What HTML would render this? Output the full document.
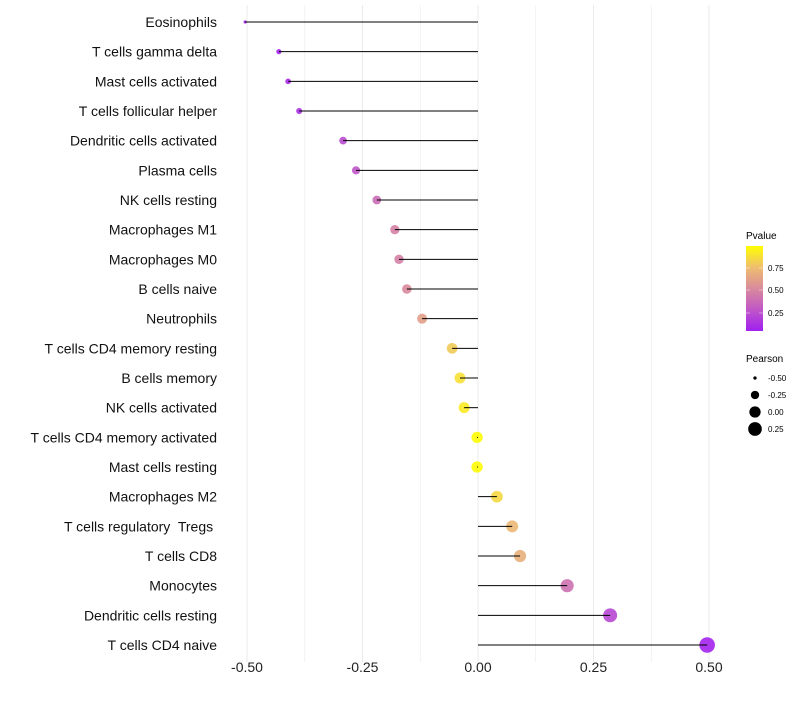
<!DOCTYPE html>
<html><head><meta charset="utf-8"><style>
body{margin:0;background:#fff;font-family:"Liberation Sans",sans-serif}
text{white-space:pre}
</style></head><body>
<svg id="chart" width="800" height="700" xmlns="http://www.w3.org/2000/svg" font-family="Liberation Sans, sans-serif">
<defs><linearGradient id="pg" x1="0" y1="1" x2="0" y2="0">
<stop offset="0" stop-color="#A020F0"/><stop offset="0.25" stop-color="#C056C8"/><stop offset="0.5" stop-color="#D98A9C"/><stop offset="0.75" stop-color="#EEBE6E"/><stop offset="1" stop-color="#FFFF00"/>
</linearGradient></defs>
<g id="grid"></g><g id="points"></g><g id="marks"></g><g id="ylabels"></g><g id="xlabels"></g>
<g id="legend">
<text x="746" y="239" font-size="10">Pvalue</text>
<rect x="746" y="246" width="17" height="85" fill="url(#pg)"/>
<g stroke="#fff" stroke-width="0.7" opacity="0.6"><line x1="746" y1="268" x2="750" y2="268"/><line x1="759" y1="268" x2="763" y2="268"/><line x1="746" y1="290" x2="750" y2="290"/><line x1="759" y1="290" x2="763" y2="290"/><line x1="746" y1="313" x2="750" y2="313"/><line x1="759" y1="313" x2="763" y2="313"/></g>
<g font-size="8"><text x="768" y="271">0.75</text><text x="768" y="293">0.50</text><text x="768" y="316">0.25</text></g>
<text x="746" y="362" font-size="10">Pearson</text>
<g id="sizeleg"></g>
</g>
</svg>
<script>
const cells=["Eosinophils","T cells gamma delta","Mast cells activated","T cells follicular helper","Dendritic cells activated","Plasma cells","NK cells resting","Macrophages M1","Macrophages M0","B cells naive","Neutrophils","T cells CD4 memory resting","B cells memory","NK cells activated","T cells CD4 memory activated","Mast cells resting","Macrophages M2","T cells regulatory  Tregs ","T cells CD8","Monocytes","Dendritic cells resting","T cells CD4 naive"];
const pearson=[-0.504,-0.431,-0.411,-0.387,-0.292,-0.264,-0.219,-0.180,-0.171,-0.154,-0.121,-0.056,-0.039,-0.030,-0.002,-0.002,0.041,0.074,0.091,0.193,0.286,0.496];
const pvalue=[0.02,0.03,0.05,0.07,0.2,0.25,0.35,0.45,0.45,0.5,0.6,0.8,0.88,0.92,0.99,0.99,0.85,0.72,0.68,0.38,0.18,0.02];
const xticks=[-0.5,-0.25,0,0.25,0.5];
const xtickLabels=["-0.50","-0.25","0.00","0.25","0.50"];
const sizeLegend=[-0.5,-0.25,0,0.25];
const sizeLegendLabels=["-0.50","-0.25","0.00","0.25"];
const NS="http://www.w3.org/2000/svg";
const X=v=>478+v*462;
const Y=i=>22+i*29.667;
const pmin=Math.min(...pearson),pmax=Math.max(...pearson);
const R=v=>Math.sqrt(1.6*1.6+(v-pmin)/(pmax-pmin)*(7.8*7.8-1.6*1.6));
const stops=[[0,[160,32,240]],[0.25,[192,86,200]],[0.5,[217,138,156]],[0.75,[238,190,110]],[1,[255,255,0]]];
function col(p){p=Math.max(0,Math.min(1,p));for(let k=1;k<stops.length;k++){if(p<=stops[k][0]){const a=stops[k-1],b=stops[k],t=(p-a[0])/(b[0]-a[0]);return "rgb("+a[1].map((c,j)=>Math.round(c+(b[1][j]-c)*t)).join(",")+")";}}}
function el(t,a,parent){const e=document.createElementNS(NS,t);for(const k in a)e.setAttribute(k,a[k]);document.getElementById(parent).appendChild(e);return e;}
for(let v=-0.5;v<=0.5001;v+=0.125){const g=el("line",{x1:X(v),x2:X(v),y1:5,y2:662,stroke:"#ebebeb","stroke-width":Math.abs(v*4-Math.round(v*4))<1e-6?1:0.6},"grid");

}
xticks.forEach((v,i)=>{const t=el("text",{x:X(v),y:672,"font-size":"14","text-anchor":"middle",fill:"#222"},"xlabels");t.textContent=xtickLabels[i];

});
cells.forEach((c,i)=>{const y=Y(i);
const p=el("circle",{cx:X(pearson[i]),cy:y,r:R(pearson[i]),fill:col(pvalue[i]),"fill-opacity":0.9},"points");


const l=el("line",{x1:X(0),x2:X(pearson[i]),y1:y,y2:y,stroke:"#000","stroke-width":1},"marks");


const t=el("text",{x:217,y:y+5,"font-size":"14","text-anchor":"end",fill:"#111"},"ylabels");t.textContent=c;

});
sizeLegend.forEach((v,i)=>{const y=378+i*17;
const c=el("circle",{cx:755,cy:y,r:R(v),fill:"#000"},"sizeleg");


const t=el("text",{x:768,y:y+3,"font-size":"8"},"sizeleg");t.textContent=sizeLegendLabels[i];

});
</script>
</body></html>
